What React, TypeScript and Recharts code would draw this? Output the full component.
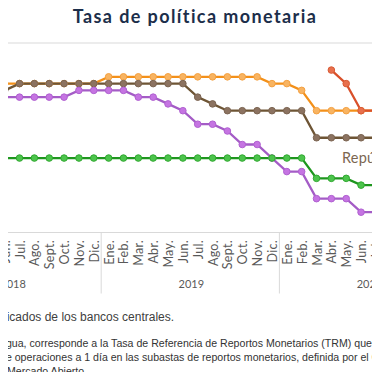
import React from "react";
import { LineChart, Line, XAxis, YAxis, CartesianGrid } from "recharts";

// meses Ene 2018 .. Ago 2020
const monthNames = ["Ene.", "Feb.", "Mar.", "Abr.", "May.", "Jun.", "Jul.", "Ago.", "Sept.", "Oct.", "Nov.", "Dic."];
const years = ["2018", "2019", "2020"];
const N = 32;

// tasas (%)
const honduras = [
  null, null, null, null, 5.5, 5.5, 5.5, 5.5, 5.5, 5.5, 5.5, 5.5,
  5.75, 5.75, 5.75, 5.75, 5.75, 5.75, 5.75, 5.75, 5.75, 5.75, 5.75, 5.5,
  5.5, 5.25, 4.5, 4.5, 4.5, 4.5, 4.5, 3.75,
];
const repDominicana = [
  null, null, null, null, 5.0, 5.25, 5.5, 5.5, 5.5, 5.5, 5.5, 5.5,
  5.5, 5.5, 5.5, 5.5, 5.5, 5.5, 5.0, 4.75, 4.5, 4.5, 4.5, 4.5,
  4.5, 4.5, 3.5, 3.5, 3.5, 3.5, 3.5, 3.5,
];
const costaRica = [
  null, null, null, null, 5.0, 5.0, 5.0, 5.0, 5.0, 5.0, 5.25, 5.25,
  5.25, 5.25, 5.0, 5.0, 4.75, 4.5, 4.0, 4.0, 3.75, 3.25, 3.25, 2.75,
  2.25, 2.25, 1.25, 1.25, 1.25, 0.75, 0.75, 0.75,
];
const guatemala = [
  null, null, null, null, 2.75, 2.75, 2.75, 2.75, 2.75, 2.75, 2.75, 2.75,
  2.75, 2.75, 2.75, 2.75, 2.75, 2.75, 2.75, 2.75, 2.75, 2.75, 2.75, 2.75,
  2.75, 2.75, 2.0, 2.0, 2.0, 1.75, 1.75, 1.75,
];
const nicaragua = [
  null, null, null, null, null, null, null, null, null, null, null, null,
  null, null, null, null, null, null, null, null, null, null, null, null,
  null, null, null, 6.0, 5.5, 4.5, 4.5, 4.5,
];

const yTicks = [0, 0.5, 1, 1.5, 2, 2.5, 3, 3.5, 4, 4.5, 5, 5.5, 6, 6.5, 7];
// meses con etiqueta visible (Jun 2018 .. Jul 2020)
const xTicks = Array.from({ length: 26 }, (_, k) => k + 5);

const STEP = 14.85;
const AXIS_Y = 232.5;

const data = Array.from({ length: N }, (_, i) => ({
  i,
  hn: honduras[i],
  rd: repDominicana[i],
  cr: costaRica[i],
  gt: guatemala[i],
  ni: nicaragua[i],
}));

const MonthTick = (props: any) => {
  const { x, payload } = props;
  const i = payload.value as number;
  const m = i % 12;
  const yr = Math.floor(i / 12);
  return (
    <g>
      <g transform={`translate(${x + 0.5},${AXIS_Y + 7.5})`}>
        <text
          transform="rotate(-90)"
          textAnchor="end"
          dy="0.36em"
          fontSize={12.5}
          letterSpacing={0.3}
          fontFamily="Lato"
          fill="#595959"
        >
          {monthNames[m]}
        </text>
      </g>
      {m === 5 && (
        <text
          x={x + STEP / 2 + 1}
          y={AXIS_Y + 56}
          textAnchor="middle"
          fontSize={11}
          fontFamily="Lato"
          fill="#595959"
        >
          {years[yr]}
        </text>
      )}
      {m === 0 && (
        <line x1={x - STEP / 2} x2={x - STEP / 2} y1={AXIS_Y} y2={AXIS_Y + 61} stroke="#d9d9d9" />
      )}
    </g>
  );
};

const dot = (fill: string, stroke: string) => ({ r: 3.3, fill, stroke, strokeWidth: 1 });

export default function App() {
  const plotW = N * STEP;
  const left = 4.3 - 5.5 * STEP;
  return (
    <div
      style={{
        position: "relative",
        width: 380,
        height: 380,
        margin: -8,
        overflow: "hidden",
        background: "#fff",
      }}
    >
      <div
        style={{
          position: "absolute",
          top: 4,
          left: 5,
          width: 380,
          textAlign: "center",
          fontFamily: "Lato",
          fontWeight: 700,
          fontSize: 18,
          letterSpacing: 1.4,
          lineHeight: "24px",
          color: "#1c2e4a",
        }}
      >
        Tasa de política monetaria
      </div>

      <div style={{ position: "absolute", left, top: 0 }}>
        <LineChart
          width={plotW}
          height={380}
          data={data}
          margin={{ top: 43, right: 0, bottom: 87.5, left: 0 }}
        >
          <CartesianGrid vertical={false} stroke="#d9d9d9" />
          <XAxis
            dataKey="i"
            type="number"
            domain={[-0.5, N - 0.5]}
            ticks={xTicks}
            interval={0}
            height={60}
            tickLine={false}
            tickSize={0}
            tickMargin={0}
            axisLine={{ stroke: "#d9d9d9" }}
            tick={<MonthTick />}
            allowDataOverflow
          />
          <YAxis
            domain={[0, 7]}
            ticks={yTicks}
            width={0}
            tick={false}
            axisLine={false}
            tickLine={false}
          />
          <Line type="linear" dataKey="hn" stroke="#f39019" strokeWidth={2.3} dot={dot("#f8b462", "#f3a040")} isAnimationActive={false} />
          <Line type="linear" dataKey="rd" stroke="#6e5535" strokeWidth={2.3} dot={dot("#8c7361", "#7a6350")} isAnimationActive={false} />
          <Line type="linear" dataKey="cr" stroke="#a45cc6" strokeWidth={2.3} dot={dot("#c574e2", "#b060d0")} isAnimationActive={false} />
          <Line type="linear" dataKey="gt" stroke="#1e961e" strokeWidth={2.3} dot={dot("#4cc44c", "#30a830")} isAnimationActive={false} />
          <Line type="linear" dataKey="ni" stroke="#d9502a" strokeWidth={2.3} dot={dot("#e8704d", "#d85a35")} isAnimationActive={false} />
        </LineChart>
      </div>

      <div
        style={{
          position: "absolute",
          left: 342,
          top: 149,
          fontFamily: "Lato",
          fontSize: 14.5,
          letterSpacing: 0.2,
          color: "#7b6650",
          whiteSpace: "nowrap",
        }}
      >
        República Dominicana
      </div>

      <div
        style={{
          position: "absolute",
          left: 0,
          top: 310,
          fontFamily: "Liberation Sans",
          fontSize: 12,
          color: "#404040",
          whiteSpace: "nowrap",
        }}
      >
        nicados de los bancos centrales.
      </div>
      <div
        style={{
          position: "absolute",
          left: 0,
          top: 335.5,
          fontFamily: "Liberation Sans",
          fontSize: 10.6,
          lineHeight: "14px",
          color: "#333",
          whiteSpace: "nowrap",
        }}
      >
        <div>agua, corresponde a la Tasa de Referencia de Reportos Monetarios (TRM) que es</div>
        <div>de operaciones a 1 día en las subastas de reportos monetarios, definida por el Comité</div>
        <div style={{ paddingLeft: 7 }}>Mercado Abierto</div>
      </div>
    </div>
  );
}
